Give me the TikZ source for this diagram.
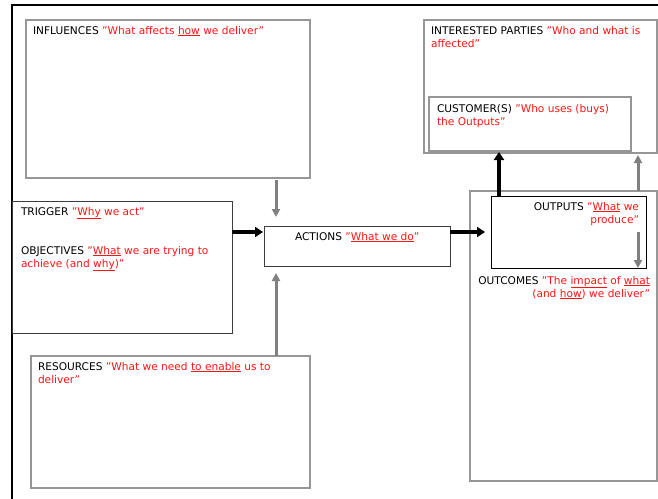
\documentclass[tikz,border=0pt]{standalone}
\usepackage{fontspec}
\setmainfont{DejaVu Sans}
\usetikzlibrary{arrows.meta}
\definecolor{qred}{RGB}{255,20,20}
\definecolor{boxgray}{RGB}{150,150,150}
\definecolor{arrgray}{RGB}{128,128,128}
\definecolor{boxdark}{RGB}{60,60,60}
\newcommand{\redq}[1]{\textcolor{qred}{#1}}
\newcommand{\myul}[1]{\underline{#1}}
\tikzset{
  box/.style={draw=boxgray, line width=1.2pt, anchor=north west, inner sep=0pt, outer sep=0pt},
  darkbox/.style={draw=boxdark, line width=1pt, anchor=north west, inner sep=0pt, outer sep=0pt},
  txt/.style={inner sep=0pt, outer sep=0pt, font=\fontsize{10.6}{13}\selectfont},
  grayarrow/.style={draw=arrgray, line width=3pt, -{Triangle[length=8pt,width=8pt]}},
  blackarrow/.style={draw=black, line width=3.4pt, -{Triangle[length=8pt,width=10pt]}},
}
\begin{document}
\begin{tikzpicture}[x=1pt,y=-1pt]
\useasboundingbox (0,0) rectangle (658,498);
% frame
\draw[line width=2pt, line cap=rect] (12,498) -- (12,5) -- (658,5);
% boxes
\node[box, minimum width=284pt, minimum height=158pt] (infl) at (26,20) {};
\node[darkbox, minimum width=220pt, minimum height=132pt] (trig) at (12,201) {};
\node[box, minimum width=279pt, minimum height=132pt] (res) at (31,356) {};
\node[darkbox, minimum width=186pt, minimum height=40pt] (act) at (264,226) {};
\node[box, minimum width=187pt, minimum height=290pt] (outc) at (470,191) {};
\node[darkbox, draw=black, minimum width=155pt, minimum height=72pt] (outp) at (491,196) {};
\node[box, minimum width=233pt, minimum height=133pt] (intp) at (424,20) {};
\node[box, minimum width=202pt, minimum height=54pt] (cust) at (429,97) {};
% texts (base anchor = baseline of the last line)
\node[txt, anchor=base west, align=left] (tinfl) at (33,34) {INFLUENCES \redq{"What affects \myul{how} we deliver"}};
\node[txt, anchor=base west, align=left] (tintp) at (431,47) {INTERESTED PARTIES \redq{"Who and what is}\\\redq{affected"}};
\node[txt, anchor=base west, align=left] (tcust) at (437,125.5) {CUSTOMER(S) \redq{"Who uses (buys)}\\\redq{the Outputs"}};
\node[txt, anchor=base west, align=left] (ttrig) at (21,215) {TRIGGER \redq{"\myul{Why} we act"}};
\node[txt, anchor=base west, align=left] (tobj) at (21,267) {OBJECTIVES \redq{"\myul{What} we are trying to}\\\redq{achieve (and \myul{why})"}};
\node[txt, anchor=base west, align=left] (tact) at (295,240) {ACTIONS \redq{"\myul{What we do}"}};
\node[txt, anchor=base east, align=right] (toutp) at (639,223) {OUTPUTS \redq{"\myul{What} we}\\\redq{produce"}};
\node[txt, anchor=base east, align=right] (toutc) at (650,297) {OUTCOMES \redq{"The \myul{impact} of \myul{what}}\\\redq{(and \myul{how}) we deliver"}};
\node[txt, anchor=base west, align=left] (tres) at (38,383) {RESOURCES \redq{"What we need \myul{to enable} us to}\\\redq{deliver"}};
% helper coordinates
\coordinate (xa) at (276,0);
\coordinate (xc) at (499,0);
\coordinate (xg) at (638,0);
\coordinate (yo) at (0,232);
% connectors
\draw[grayarrow, shorten <=2pt, shorten >=9pt] (infl.south -| xa) -- (act.north -| xa);
\draw[grayarrow, shorten >=7pt] (res.north -| xa) -- (act.south -| xa);
\draw[blackarrow, shorten >=1pt] (trig.east |- yo) -- (act.west |- yo);
\draw[blackarrow, shorten >=6pt] (act.east |- yo) -- (outp.west |- yo);
\draw[blackarrow, shorten >=1pt] (outp.north -| xc) -- (cust.south -| xc);
\draw[grayarrow, shorten >=2pt] (outc.north -| xg) -- (intp.south -| xg);
\draw[grayarrow] (xg |- yo) -- (outp.south -| xg);
\end{tikzpicture}
\end{document}
